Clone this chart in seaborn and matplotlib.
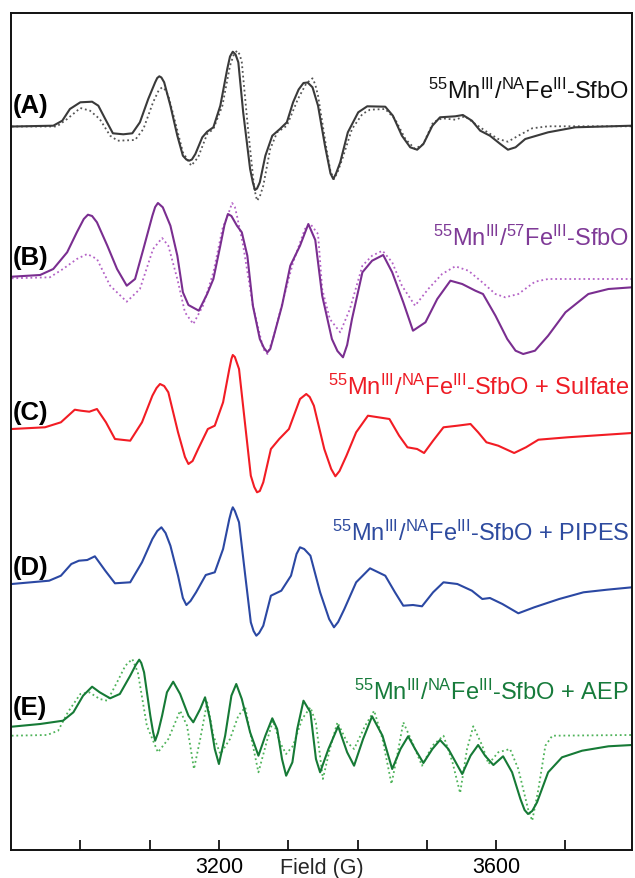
import numpy as np
import pandas as pd
import matplotlib
matplotlib.use("Agg")
import matplotlib.pyplot as plt
import seaborn as sns

# ---------------- data (Field in G, intensity in a.u. relative to each baseline) -------------
A_field = [2901, 2961, 2974, 2985, 3000, 3017, 3026, 3036, 3047, 3062, 3075, 3086, 3098, 3108, 3111, 3114,
           3117, 3121, 3130, 3140, 3148, 3153, 3157, 3161, 3166, 3176, 3183, 3192, 3202, 3212, 3216, 3220,
           3224, 3228, 3235, 3245, 3249, 3252, 3255, 3259, 3267, 3277, 3288, 3298, 3307, 3315, 3322, 3328,
           3335, 3343, 3353, 3361, 3365, 3369, 3375, 3386, 3401, 3414, 3440, 3451, 3464, 3476, 3486, 3495,
           3508, 3519, 3541, 3552, 3565, 3577, 3591, 3606, 3617, 3628, 3642, 3675, 3714, 3796]
A_exp = [0, 0.8, 5.8, 17.5, 24.2, 24.8, 20.8, 7.5, -6.8, -7.8, -6.8, 4.2, 27.5, 44.2, 48.5, 50.2,
         49, 44.2, 20.8, -9.2, -29.2, -33, -34.2, -33, -27.5, -10.8, -5.2, -0.8, 20.8, 57.5, 70, 74.8,
         72, 64.2, 14.2, -42.5, -56, -63.5, -62, -55.8, -29.2, -9.2, -2.5, 4.2, 24.2, 37, 43.5, 44,
         39.2, 20.8, -19.2, -47, -52.5, -47, -35.8, -5.8, 14.2, 20.2, 19.8, 10.8, -9.2, -20.8, -23.2, -17.5,
         0.8, 9.2, 10.2, 11.5, 5.8, -4.2, -9.2, -17.5, -23.2, -20.8, -12.5, -5.8, -0.8, 0.8]
A_sim_field = [2901, 2966, 2981, 3000, 3014, 3028, 3043, 3054, 3079, 3091, 3105, 3113, 3118, 3122, 3127, 3137,
               3148, 3160, 3170, 3183, 3192, 3205, 3216, 3221, 3226, 3230, 3233, 3242, 3251, 3255, 3259, 3264,
               3274, 3284, 3298, 3314, 3326, 3335, 3339, 3343, 3356, 3361, 3366, 3371, 3378, 3392, 3407, 3418,
               3440, 3454, 3469, 3483, 3495, 3509, 3522, 3541, 3555, 3570, 3584, 3603, 3617, 3632, 3652, 3675,
               3796]
A_sim = [0, 0, 7.5, 18.5, 15.8, 7.5, -9.2, -14.2, -13.5, -2.5, 24.2, 36, 39.2, 37, 30.8, 4.2,
         -25.8, -39.2, -30.8, -7.5, -2.5, 20.8, 60.8, 71, 75.8, 72, 64.2, -2.5, -62, -74.2, -70, -59.2,
         -22.5, -5.8, 0.8, 27.5, 43, 48.2, 42, 30.8, -25.8, -45, -52.5, -46, -32.5, -2.5, 12.5, 16.8,
         17.5, 7.5, -12.5, -22.5, -17.5, 4.2, 8.2, 6.8, 10.2, 2.5, -4.2, -12.5, -15.2, -9.2, -1.8, 0.2,
         0.2]

B_field = [2901, 2942, 2961, 2981, 2995, 3005, 3011, 3017, 3024, 3039, 3053, 3067, 3079, 3091, 3104, 3108,
           3112, 3119, 3130, 3140, 3148, 3156, 3171, 3183, 3192, 3202, 3208, 3213, 3218, 3226, 3233, 3241,
           3249, 3259, 3265, 3270, 3274, 3278, 3291, 3303, 3317, 3329, 3339, 3349, 3363, 3371, 3379, 3385,
           3392, 3407, 3421, 3437, 3450, 3466, 3480, 3498, 3515, 3534, 3551, 3570, 3581, 3599, 3616, 3628,
           3639, 3656, 3675, 3700, 3733, 3762, 3796]
B_exp = [0.3, 2, 8, 24.7, 44.7, 58, 62.3, 61, 54.7, 31.3, 8, -8.7, -2, 28, 61.3, 70,
         74, 69.7, 51.3, 21.3, -15.3, -28, -33.7, -17, -2, 31.3, 52, 63, 61, 51.3, 44.7, 21.3,
         -28.7, -62, -71, -75.3, -72, -62, -28.7, 11.3, 31.3, 53, 37, -18.7, -62, -74, -80.3, -68,
         -42, 4.7, 16.3, 22, 4.7, -25.3, -53.7, -45.3, -22, -3.7, -7, -13.7, -17, -38.7, -62, -73.7,
         -77, -73.7, -58.7, -35.3, -17, -12, -10.3]
B_sim_field = [2901, 2956, 2975, 2995, 3010, 3024, 3043, 3067, 3086, 3105, 3118, 3127, 3140, 3151, 3163, 3177,
               3192, 3205, 3214, 3219, 3223, 3226, 3235, 3249, 3264, 3270, 3278, 3293, 3307, 3324, 3332, 3343,
               3349, 3360, 3375, 3389, 3407, 3421, 3436, 3450, 3464, 3483, 3502, 3522, 3541, 3560, 3580, 3599,
               3613, 3632, 3656, 3675, 3796]
B_sim = [-1.3, -0.3, 8, 18, 23, 18, -8.7, -24.7, -12, 28, 39, 31.3, -2, -35.3, -47, -28.7,
         4.7, 48, 64, 74, 70, 61.3, 31.3, -28.7, -72, -77, -62, -22, 14.7, 48, 53, 43,
         -12, -42, -55.3, -32, 11.3, 21.3, 26.3, 14.7, -8.7, -28.7, -12, 3, 10.7, 6.3, -5.3, -17,
         -20.3, -17, -4.7, -2, -2]

C_field = [2901, 2949, 2972, 2992, 3001, 3013, 3024, 3037, 3050, 3072, 3089, 3104, 3110, 3115, 3121, 3127,
           3141, 3151, 3156, 3162, 3170, 3184, 3194, 3206, 3215, 3218, 3220, 3223, 3229, 3238, 3246, 3251,
           3255, 3259, 3264, 3275, 3287, 3301, 3317, 3326, 3331, 3337, 3352, 3362, 3368, 3374, 3384, 3398,
           3415, 3446, 3460, 3472, 3486, 3496, 3509, 3524, 3544, 3563, 3574, 3586, 3603, 3626, 3643, 3661,
           3703, 3796]
C_exp = [0, 1.7, 6.7, 19.3, 18.3, 17.3, 20, 6.7, -10, -11.7, 6.7, 33.3, 41, 45, 43, 36.7,
         -3.3, -28, -35, -32, -20, 0, 3.3, 26.7, 60, 70, 74, 72, 60, 3.3, -46.7, -58,
         -63.3, -62, -53.3, -20, -10, 0, 30, 35, 32, 23.3, -20, -40, -47.3, -42, -26.7, -3.3,
         13.3, 10, -6.7, -18.3, -20, -24, -11.7, 1.7, 3.3, 5, -3.3, -13.3, -16.7, -24, -18.3, -10.7,
         -8.3, -4]

D_field = [2901, 2955, 2972, 2987, 2998, 3010, 3021, 3036, 3050, 3072, 3089, 3104, 3111, 3117, 3123, 3130,
           3141, 3148, 3153, 3159, 3167, 3181, 3194, 3206, 3215, 3218, 3220, 3223, 3229, 3238, 3246, 3250,
           3254, 3258, 3264, 3275, 3290, 3304, 3312, 3317, 3323, 3332, 3346, 3359, 3366, 3372, 3381, 3398,
           3418, 3440, 3454, 3466, 3480, 3493, 3509, 3524, 3544, 3565, 3580, 3591, 3609, 3632, 3655, 3691,
           3726, 3760, 3796]
D_exp = [0, 3.3, 8.3, 20, 23.3, 24, 27.7, 13.3, 0.7, 1.7, 21.7, 45, 53, 56.7, 51, 38.3,
         8.3, -14, -21, -17, -8.3, 9, 11.7, 35, 65, 73, 76.7, 73, 61.7, 8.3, -38.3, -47,
         -51.7, -49, -41.7, -11.7, -6.7, 8.3, 30, 36.7, 35, 28.3, -8.3, -35, -43.3, -38, -25, 1.7,
         15.7, 8.3, -8.3, -21.7, -21, -22.3, -8.3, 1.7, 0, -6.7, -15, -14, -20, -29.3, -23.3, -15,
         -8.3, -5.7, -3.3]

E_field = [2901, 2942, 2975, 2990, 3004, 3017, 3028, 3043, 3057, 3072, 3080, 3085, 3088, 3092, 3101, 3105,
           3108, 3112, 3118, 3125, 3134, 3144, 3156, 3163, 3173, 3180, 3187, 3194, 3200, 3209, 3218, 3225,
           3233, 3245, 3257, 3267, 3277, 3284, 3291, 3297, 3306, 3313, 3322, 3332, 3340, 3346, 3358, 3372,
           3385, 3395, 3408, 3421, 3436, 3450, 3462, 3473, 3483, 3495, 3508, 3519, 3531, 3551, 3563, 3574,
           3584, 3596, 3610, 3623, 3635, 3641, 3646, 3652, 3659, 3675, 3695, 3724, 3762, 3796]
E_exp = [0.3, 3, 6.3, 14.7, 31.3, 40.3, 34.7, 28.7, 33, 51.3, 62, 67.3, 64, 54.7, 11.3, -5,
         -13.7, -6, 11.3, 34.7, 45.3, 33, 11.3, 4.7, 18, 29.7, 8, -22, -37, -8.7, 31.3, 43,
         28, -5.3, -28.7, -8.7, 8.7, -2, -32, -48.7, -35.3, -2, 26.3, 14.7, -32, -45.3, -22, 0.7,
         -25.3, -38.7, -12, 10.7, -8.7, -42, -22, -9.3, -22, -36, -22, -13, -22, -47, -28.7, -18,
         -28.7, -38, -29.3, -45.3, -72, -83, -87, -84, -75.3, -45.3, -30.3, -23.7, -19.3, -18]
E_sim_field = [2901, 2952, 2968, 2982, 3000, 3013, 3028, 3039, 3053, 3065, 3075, 3083, 3096, 3112, 3127, 3144,
               3154, 3164, 3173, 3183, 3192, 3202, 3216, 3228, 3238, 3245, 3257, 3270, 3278, 3288, 3297, 3307,
               3320, 3332, 3340, 3350, 3360, 3371, 3385, 3395, 3411, 3424, 3436, 3449, 3459, 3466, 3479, 3493,
               3508, 3524, 3537, 3548, 3558, 3567, 3580, 3589, 3603, 3620, 3632, 3646, 3652, 3661, 3671, 3681,
               3796]
E_sim = [-0.2, 0.5, 4.8, 23.2, 41.5, 43.2, 36.5, 34.8, 53.2, 69.8, 76.5, 63.2, 9.8, -16.8, -3.5, 24.8,
         9.8, -33.5, -3.5, 33.2, -0.2, -18.5, -3.5, 19.8, 28.2, 3.2, -36.8, -3.5, 14.8, -6.8, -18.5, -10.2,
         16.5, 28.2, 12.5, -43.5, -13.5, 13.2, -6.8, -13.5, 9.8, 24.8, -3.5, -48.5, -13.5, 13.2, -6.8, -30.2,
         -10.2, -0.2, -26.8, -57.5, -13.5, 9.2, -10.2, -28.5, -16.8, -13.5, -33.5, -73.5, -85.2, -53.5, -10.2, -0.2,
         0.5]

panel_letters = ["(A)", "(B)", "(C)", "(D)", "(E)"]
sample_labels = [r"$^{55}$Mn$^{\mathrm{III}}$/$^{\mathrm{NA}}$Fe$^{\mathrm{III}}$-SfbO",
                 r"$^{55}$Mn$^{\mathrm{III}}$/$^{57}$Fe$^{\mathrm{III}}$-SfbO",
                 r"$^{55}$Mn$^{\mathrm{III}}$/$^{\mathrm{NA}}$Fe$^{\mathrm{III}}$-SfbO + Sulfate",
                 r"$^{55}$Mn$^{\mathrm{III}}$/$^{\mathrm{NA}}$Fe$^{\mathrm{III}}$-SfbO + PIPES",
                 r"$^{55}$Mn$^{\mathrm{III}}$/$^{\mathrm{NA}}$Fe$^{\mathrm{III}}$-SfbO + AEP"]
tick_values = [3000, 3100, 3200, 3300, 3400, 3500, 3600, 3700]
tick_labels = ["", "", "3200", "", "", "", "3600", ""]

# ---------------- style ----------------
sns.set_theme(style="white")
plt.rcParams["font.family"] = ["Liberation Sans", "DejaVu Sans"]
plt.rcParams["mathtext.fontset"] = "custom"
plt.rcParams["mathtext.rm"] = "Liberation Sans"
plt.rcParams["mathtext.it"] = "Liberation Sans:italic"
plt.rcParams["mathtext.bf"] = "Liberation Sans:bold"

fig = plt.figure(figsize=(6.35, 8.79), dpi=100)
ax = fig.add_axes([11 / 635, 28 / 879, 621 / 635, 837 / 879])

# (field, values, baseline offset, color, dotted?)
traces = [
    (A_sim_field, A_sim, 723.5, "#555555", True),
    (A_field, A_exp, 723.5, "#3a3a3a", False),
    (B_sim_field, B_sim, 573, "#b462c6", True),
    (B_field, B_exp, 573, "#7a2e90", False),
    (C_field, C_exp, 421, "#f21c24", False),
    (D_field, D_exp, 266, "#2b48a3", False),
    (E_sim_field, E_sim, 114.5, "#4fb35a", True),
    (E_field, E_exp, 123, "#167a36", False),
]
for fld, val, off, col, dotted in traces:
    df = pd.DataFrame({"Field": fld, "y": np.asarray(val) + off})
    sns.lineplot(data=df, x="Field", y="y", ax=ax, sort=False, estimator=None,
                 color=col, lw=1.3 if dotted else 1.5,
                 linestyle=(0, (1, 1.6)) if dotted else "-",
                 solid_joinstyle="round", solid_capstyle="round")

ax.set_xlim(2900, 3796)
ax.set_ylim(0, 837)

letter_y = [745, 593, 438, 283, 143]
label_y = [760, 613, 464, 318, 159]
label_colors = ["#111111", "#7f3a97", "#ee1c25", "#2e4b9f", "#177b3b"]
for let, ly in zip(panel_letters, letter_y):
    ax.text(2902, ly, let, fontsize=18.5, fontweight="bold", ha="left", va="center", color="black")
for lab, ly, c in zip(sample_labels, label_y, label_colors):
    ax.text(3792, ly, lab, fontsize=17, ha="right", va="center", color=c)

ax.set_yticks([])
ax.set_ylabel("")
ax.set_xticks(tick_values)
ax.set_xticklabels(tick_labels)
ax.tick_params(axis="x", direction="in", length=7, width=1.2, pad=4, labelsize=15.5,
               colors="black", bottom=True)
ax.set_xlabel("Field (G)", fontsize=15.5)
ax.xaxis.label.set_va("center")
ax.xaxis.set_label_coords((322 - 11) / 621, -18 / 837)
for s in ax.spines.values():
    s.set_visible(True)
    s.set_color("#111111")
    s.set_linewidth(1.4)

fig.savefig("out.png", dpi=100)
